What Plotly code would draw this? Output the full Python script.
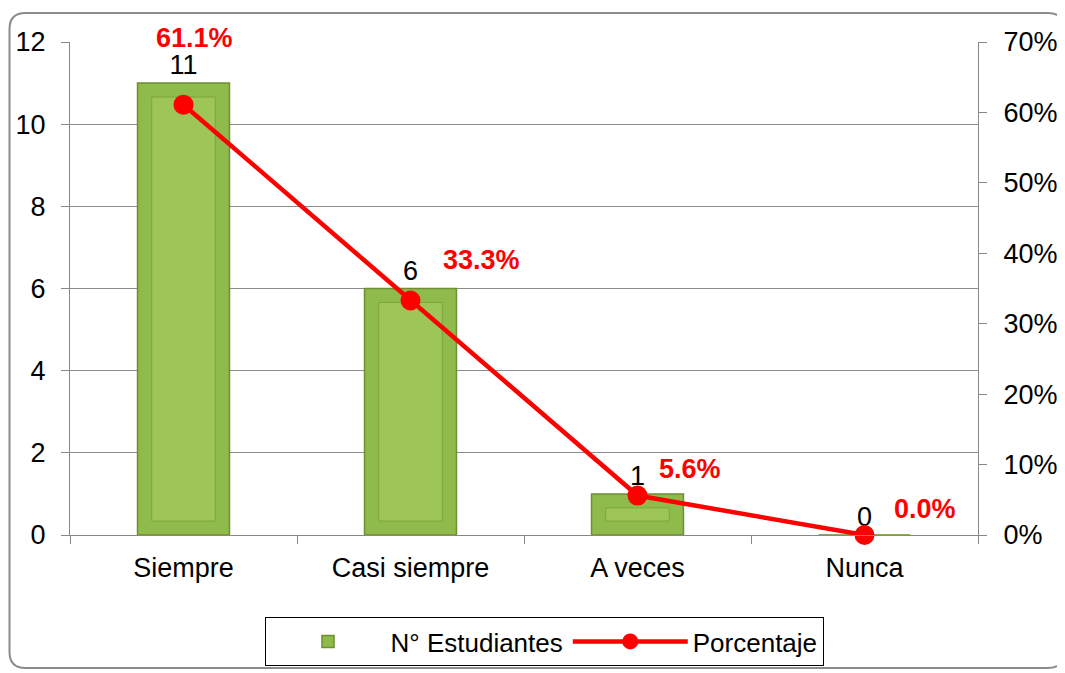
import plotly.graph_objects as go

categories = ["Siempre", "Casi siempre", "A veces", "Nunca"]
estudiantes = [11, 6, 1, 0]
porcentaje = [0.611, 0.333, 0.056, 0.0]
left_ticks = [0, 2, 4, 6, 8, 10, 12]
right_ticks = [0, 0.1, 0.2, 0.3, 0.4, 0.5, 0.6, 0.7]

FONT = "Liberation Sans, Arial, sans-serif"

# figure size (page has an 8px body margin) and plot area in figure pixels
W, H = 1057, 665
L, R, T, B = 62, 970, 34, 527


def px(x):
    return (x - L) / (R - L)


def py(y):
    return (B - y) / (B - T)


# bevel inset for the bar face (in data units)
inset = 0.34
face = [v - 2 * inset if v > 2 * inset else None for v in estudiantes]

fig = go.Figure()

fig.add_trace(go.Bar(
    x=categories, y=estudiantes, name="N° Estudiantes",
    marker=dict(color="#8fba4c", line=dict(color="#6c8f30", width=1.5)),
    width=0.405,
    text=[str(v) for v in estudiantes], textposition="outside",
    textfont=dict(size=27, color="black", family=FONT),
    cliponaxis=False,
))

fig.add_trace(go.Bar(
    x=categories, y=face, base=inset, showlegend=False, hoverinfo="skip",
    marker=dict(color="#9dc558", line=dict(color="#7fa53c", width=1)),
    width=0.28,
))

fig.add_trace(go.Scatter(
    x=categories, y=porcentaje, name="Porcentaje", yaxis="y2",
    mode="lines+markers",
    line=dict(color="#ff0000", width=4.5),
    marker=dict(color="#ff0000", size=20),
    cliponaxis=False,
))

# percent labels, placed up-right of each point
offsets = [(11, 67), (71, 40), (52, 27), (60, 26)]
for c, p, (dx, dy) in zip(categories, porcentaje, offsets):
    fig.add_annotation(
        x=c, y=p, yref="y2", text=f"<b>{p*100:.1f}%</b>", showarrow=False,
        xshift=dx, yshift=dy,
        font=dict(size=27, color="#ff0000", family=FONT),
    )

# rounded outer frame
x0, x1, y0, y1, r = px(1.5), px(1056), py(5), py(660), 16
rx, ry = r / (R - L), r / (B - T)
path = (f"M {x0+rx},{y0} L {x1-rx},{y0} Q {x1},{y0} {x1},{y0-ry} "
        f"L {x1},{y1+ry} Q {x1},{y1} {x1-rx},{y1} "
        f"L {x0+rx},{y1} Q {x0},{y1} {x0},{y1+ry} "
        f"L {x0},{y0-ry} Q {x0},{y0} {x0+rx},{y0} Z")
fig.add_shape(type="path", path=path, xref="paper", yref="paper",
              line=dict(color="#8c8c8c", width=2), layer="below")

fig.update_layout(
    width=W, height=H,
    margin=dict(l=L, r=W - R, t=T, b=H - B, autoexpand=False),
    paper_bgcolor="white", plot_bgcolor="white",
    font=dict(family=FONT, size=27, color="black"),
    barmode="overlay",
    xaxis=dict(
        showline=True, linecolor="#888888", linewidth=1,
        ticks="outside", tickson="boundaries", ticklen=8, tickcolor="#888888",
        tickfont=dict(size=27), showgrid=False, ticklabelstandoff=9,
    ),
    yaxis=dict(
        range=[0, 12], tickvals=left_ticks, showline=True, linecolor="#888888",
        ticks="outside", ticklen=8, tickcolor="#888888",
        gridcolor="#8c8c8c", gridwidth=1, zeroline=False,
        tickfont=dict(size=27), ticklabelstandoff=10,
    ),
    yaxis2=dict(
        range=[0, 0.7], tickvals=right_ticks, tickformat=".0%",
        overlaying="y", side="right", showline=True, linecolor="#888888",
        ticks="outside", ticklen=8, tickcolor="#888888",
        showgrid=False, zeroline=False, tickfont=dict(size=27),
        ticklabelstandoff=11,
    ),
    showlegend=True,
    legend=dict(
        orientation="h", x=px(536), xanchor="center", y=py(609), yanchor="top",
        bordercolor="black", borderwidth=1, font=dict(size=26),
        itemwidth=115,
    ),
)

fig.write_html("out.html")
